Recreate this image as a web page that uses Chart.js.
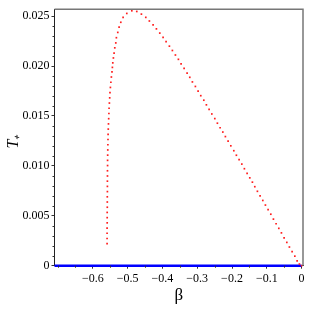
<!DOCTYPE html>
<html>
<head>
<meta charset="utf-8">
<script src="https://cdn.jsdelivr.net/npm/chart.js@4"></script>
<style>
  html, body { margin: 0; padding: 0; background: #fff; }
  canvas { display: block; }
</style>
</head>
<body>
<canvas id="tplusChart" width="309" height="309"></canvas>
<script>
// beta / T+, in drawing order along the curve
const betaValues = [
  -0.5589, -0.5589, -0.5589, -0.5589, -0.5586, -0.5586, -0.5586, -0.5583, -0.5583, -0.5583,
  -0.5580, -0.5580, -0.5580, -0.5578, -0.5578, -0.5575, -0.5575, -0.5572, -0.5569, -0.5566,
  -0.5563, -0.5560, -0.5555, -0.5549, -0.5543, -0.5537, -0.5532, -0.5523, -0.5514, -0.5506,
  -0.5494, -0.5480, -0.5466, -0.5448, -0.5437,
  -0.5425, -0.5408, -0.5388, -0.5368, -0.5339, -0.5322, -0.5282, -0.5244, -0.5195, -0.5129,
  -0.5023, -0.4879,
  -0.4736, -0.4603, -0.4477, -0.4374, -0.4267, -0.4172, -0.4075, -0.3980, -0.3894, -0.3799,
  -0.3713, -0.3626, -0.3540, -0.3463, -0.3376, -0.3290, -0.3213, -0.3138, -0.3052, -0.2974,
  -0.2897, -0.2810, -0.2736, -0.2658, -0.2580, -0.2494, -0.2420, -0.2342, -0.2264, -0.2190,
  -0.2112, -0.2034, -0.1948, -0.1874, -0.1796, -0.1718, -0.1644, -0.1566, -0.1489, -0.1414,
  -0.1345, -0.1270, -0.1193, -0.1115, -0.1040, -0.0963, -0.0885, -0.0810, -0.0733, -0.0655,
  -0.0580, -0.0503, -0.0425, -0.0351, -0.0273, -0.0195, -0.0129, -0.0063, 0
];
const tPlusValues = [
  0.002205, 0.002726, 0.003248, 0.003770, 0.004291, 0.004813, 0.005335, 0.005856, 0.006378, 0.006900,
  0.007421, 0.007943, 0.008465, 0.008986, 0.009508, 0.010030, 0.010551, 0.011073, 0.011594, 0.012116,
  0.012638, 0.013159, 0.013681, 0.014203, 0.014724, 0.015246, 0.015768, 0.016289, 0.016811, 0.017333,
  0.017854, 0.018376, 0.018898, 0.019419, 0.019862,
  0.020315, 0.020807, 0.021299, 0.021821, 0.022313, 0.022835, 0.023366, 0.023888, 0.024380, 0.024872,
  0.025266, 0.025531,
  0.025463, 0.025197, 0.024872, 0.024508, 0.024114, 0.023720, 0.023297, 0.022874, 0.022441, 0.021988,
  0.021555, 0.021102, 0.020669, 0.020217, 0.019754, 0.019291, 0.018868, 0.018406, 0.017953, 0.017490,
  0.017028, 0.016575, 0.016112, 0.015650, 0.015197, 0.014734, 0.014272, 0.013819, 0.013386, 0.012933,
  0.012470, 0.012008, 0.011516, 0.011063, 0.010630, 0.010177, 0.009715, 0.009252, 0.008799, 0.008366,
  0.007913, 0.007451, 0.006988, 0.006535, 0.006073, 0.005610, 0.005157, 0.004665, 0.004203, 0.003740,
  0.003287, 0.002795, 0.002333, 0.001870, 0.001417, 0.000955, 0.000492, 0.000167, 0
];

// the T+ = 0 branch (blue)
const zeroBeta = [-0.71, 0];
const zeroT = [0, 0];

const xTicks = [-0.6, -0.5, -0.4, -0.3, -0.2, -0.1, 0];
const xMinorTicks = [-0.7, -0.65, -0.55, -0.45, -0.35, -0.25, -0.15, -0.05];
const yTicks = [0, 0.005, 0.010, 0.015, 0.020, 0.025];
const yMinorTicks = [];
for (let i = 1; i <= 25; i++) {
  if (i % 5 !== 0) yMinorTicks.push(i / 1000);
}

const serif = '"Liberation Serif", "Times New Roman", serif';

// minor ticks + gray box on top/right
const framePlugin = {
  id: 'frame',
  afterDraw(chart) {
    const { ctx, chartArea, scales } = chart;
    ctx.save();
    ctx.strokeStyle = '#333';
    ctx.lineWidth = 1;
    ctx.beginPath();
    xMinorTicks.forEach(v => {
      const px = Math.round(scales.x.getPixelForValue(v)) + 0.5;
      ctx.moveTo(px, chartArea.bottom);
      ctx.lineTo(px, chartArea.bottom + 2);
    });
    yMinorTicks.forEach(v => {
      const py = Math.round(scales.y.getPixelForValue(v)) + 0.5;
      ctx.moveTo(chartArea.left - 2, py);
      ctx.lineTo(chartArea.left, py);
    });
    ctx.stroke();

    ctx.strokeStyle = '#777';
    ctx.lineWidth = 1.5;
    ctx.beginPath();
    ctx.moveTo(chartArea.left, chartArea.top);
    ctx.lineTo(chartArea.right, chartArea.top);
    ctx.lineTo(chartArea.right, chartArea.bottom);
    ctx.stroke();
    ctx.restore();
  }
};

const ctx = document.getElementById('tplusChart').getContext('2d');
new Chart(ctx, {
  type: 'scatter',
  data: {
    datasets: [
      {
        label: 'T+ = 0',
        data: zeroBeta.map((b, i) => ({ x: b, y: zeroT[i] })),
        showLine: true,
        borderColor: '#0000ff',
        borderWidth: 2.5,
        pointRadius: 0,
        clip: false,
        order: 1
      },
      {
        label: 'T+',
        data: betaValues.map((b, i) => ({ x: b, y: tPlusValues[i] })),
        showLine: false,
        pointStyle: 'rect',
        pointRadius: 1.2,
        pointBorderWidth: 0,
        backgroundColor: 'rgb(255, 30, 30)',
        borderColor: 'rgb(255, 30, 30)',
        clip: false,
        order: 0
      }
    ]
  },
  options: {
    responsive: false,
    animation: false,
    devicePixelRatio: 1,
    layout: { padding: { top: 5, right: 6, left: 0, bottom: 0 } },
    plugins: {
      legend: { display: false },
      tooltip: { enabled: false }
    },
    scales: {
      x: {
        type: 'linear',
        min: -0.71,
        max: 0.004,
        afterBuildTicks: scale => { scale.ticks = xTicks.map(v => ({ value: v })); },
        afterFit: scale => { scale.height = 43.3; },
        ticks: {
          color: '#000',
          padding: 3,
          maxRotation: 0,
          autoSkip: false,
          font: { family: serif, size: 12 },
          callback: v => (Math.abs(v) < 1e-9 ? '0' : '\u2212' + Math.abs(v).toFixed(1))
        },
        grid: { drawOnChartArea: false, drawTicks: true, tickLength: 3, color: '#333' },
        border: { color: '#222', width: 1 },
        title: {
          display: true,
          text: 'β',
          color: '#000',
          font: { family: serif, size: 17 },
          padding: { top: 0, bottom: 3.3 }
        }
      },
      y: {
        type: 'linear',
        min: 0,
        max: 0.02569,
        afterBuildTicks: scale => { scale.ticks = yTicks.map(v => ({ value: v })); },
        afterFit: scale => { scale.width = 54.5; },
        ticks: {
          color: '#000',
          padding: 2,
          autoSkip: false,
          font: { family: serif, size: 12 },
          callback: v => (Math.abs(v) < 1e-12 ? '0' : v.toFixed(3))
        },
        grid: { drawOnChartArea: false, drawTicks: true, tickLength: 3, color: '#333' },
        border: { color: '#222', width: 1 },
        title: {
          display: true,
          text: 'T\u208A  ',
          color: '#000',
          font: { family: serif, size: 16, style: 'italic' },
          padding: { top: 4.4, bottom: 0 }
        }
      }
    }
  },
  plugins: [framePlugin]
});
</script>
</body>
</html>
